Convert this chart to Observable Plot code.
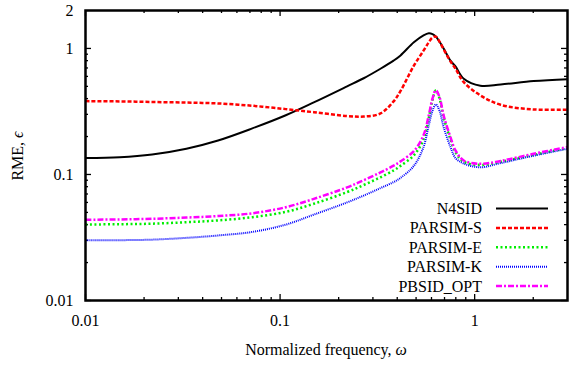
<!DOCTYPE html>
<html><head><meta charset="utf-8">
<script src="https://cdn.jsdelivr.net/npm/d3@7"></script>
<script src="https://cdn.jsdelivr.net/npm/@observablehq/plot@0.6"></script>
<style>
body{margin:0;background:#fff}
#chart{position:relative;width:571px;height:365px;background:#fff}
#chart svg, #chart svg text, #chart svg tspan{font-family:"Liberation Serif","Times New Roman",serif !important}
</style>
</head><body><div id="chart"></div>
<script>
// Normalized frequency (shared by all series)
const freq = [0.01, 0.015, 0.022, 0.033, 0.048, 0.072, 0.107, 0.149, 0.221, 0.269, 0.328, 0.383, 0.416, 0.487, 0.546, 0.581, 0.607, 0.632, 0.660, 0.694, 0.751, 0.797, 0.879, 1.07, 1.36, 2.01, 3.0];
const n4sid    = [0.135, 0.137, 0.144, 0.160, 0.186, 0.232, 0.295, 0.373, 0.500, 0.580, 0.690, 0.800, 0.880, 1.12, 1.27, 1.32, 1.30, 1.24, 1.13, 0.995, 0.80, 0.72, 0.575, 0.506, 0.518, 0.551, 0.570];
const parsimS  = [0.382, 0.380, 0.376, 0.372, 0.366, 0.351, 0.330, 0.312, 0.291, 0.288, 0.305, 0.380, 0.460, 0.730, 0.960, 1.12, 1.22, 1.24, 1.13, 0.98, 0.79, 0.69, 0.54, 0.424, 0.357, 0.328, 0.327];
const parsimE  = [0.0401, 0.0403, 0.0407, 0.0418, 0.0432, 0.0458, 0.0505, 0.0585, 0.0725, 0.0825, 0.0950, 0.1075, 0.117, 0.142, 0.190, 0.280, 0.390, 0.465, 0.400, 0.280, 0.190, 0.150, 0.126, 0.119, 0.126, 0.143, 0.162];
const parsimK  = [0.0300, 0.0301, 0.0304, 0.0314, 0.0328, 0.0350, 0.0400, 0.0480, 0.0600, 0.0680, 0.0780, 0.0870, 0.0940, 0.117, 0.165, 0.245, 0.320, 0.360, 0.320, 0.235, 0.165, 0.135, 0.122, 0.114, 0.123, 0.141, 0.160];
const pbsidOpt = [0.0437, 0.0440, 0.0445, 0.0455, 0.0468, 0.0492, 0.0550, 0.0640, 0.0790, 0.0900, 0.1038, 0.1174, 0.127, 0.153, 0.205, 0.295, 0.400, 0.465, 0.410, 0.290, 0.198, 0.155, 0.129, 0.1216, 0.128, 0.146, 0.165];

const seriesNames  = ["N4SID", "PARSIM-S", "PARSIM-E", "PARSIM-K", "PBSID_OPT"];
const seriesValues = [n4sid, parsimS, parsimE, parsimK, pbsidOpt];
const seriesColors = ["#000000", "#ff0000", "#00ee00", "#0000ff", "#ff00ff"];
const seriesWidths = [2, 2.5, 2.5, 2, 2.5];
const seriesDashes = [null, "4,2", "2,2.5", "1,1", "6,2,2,2"];

const xTickLabels = [0.01, 0.1, 1, 3];
const yTickLabels = [0.01, 0.1, 1, 2];
const xMajor = [0.01, 0.1, 1];
const yMajor = [0.01, 0.1, 1];
const xMinor = [0.02,0.03,0.04,0.05,0.06,0.07,0.08,0.09,0.2,0.3,0.4,0.5,0.6,0.7,0.8,0.9,2];
const yMinor = [0.02,0.03,0.04,0.05,0.06,0.07,0.08,0.09,0.2,0.3,0.4,0.5,0.6,0.7,0.8,0.9];

const W = 571, H = 365, mL = 85, mR = 4, mT = 10, mB = 65;
const iw = W - mL - mR, ih = H - mT - mB;
const FONT = '"Liberation Serif", "Times New Roman", serif';

const rows = seriesNames.map((name, i) => freq.map((f, j) => ({f, v: seriesValues[i][j], name})));

const tickStyle = {stroke: "black", strokeWidth: 1.3};
const marks = [
  Plot.tickX(xMajor, {x: d => d, insetTop: ih - 6, ...tickStyle}),
  Plot.tickX(xMajor, {x: d => d, insetBottom: ih - 6, ...tickStyle}),
  Plot.tickX(xMinor, {x: d => d, insetTop: ih - 3, ...tickStyle}),
  Plot.tickX(xMinor, {x: d => d, insetBottom: ih - 3, ...tickStyle}),
  Plot.tickY(yMajor, {y: d => d, insetRight: iw - 6, ...tickStyle}),
  Plot.tickY(yMajor, {y: d => d, insetLeft: iw - 6, ...tickStyle}),
  Plot.tickY(yMinor, {y: d => d, insetRight: iw - 3, ...tickStyle}),
  Plot.tickY(yMinor, {y: d => d, insetLeft: iw - 3, ...tickStyle}),
  Plot.axisX(xTickLabels, {tickSize: 0, tickPadding: 14, tickFormat: d => String(d), fontSize: 16, label: null}),
  Plot.axisY(yTickLabels, {tickSize: 0, tickPadding: 12, tickFormat: d => String(d), fontSize: 16, label: null}),
  ...rows.map((r, i) => Plot.line(r, {x: "f", y: "v", stroke: seriesColors[i], strokeWidth: seriesWidths[i],
    strokeDasharray: seriesDashes[i], strokeLinecap: "butt", curve: "catmull-rom"})),
  Plot.frame({stroke: "black", strokeWidth: 2.5})
];

const chart = Plot.plot({
  width: W, height: H,
  marginLeft: mL, marginRight: mR, marginTop: mT, marginBottom: mB,
  style: {fontFamily: FONT, fontSize: "16px", background: "white", color: "black"},
  x: {type: "log", domain: [0.01, 3], axis: null},
  y: {type: "log", domain: [0.01, 2], axis: null},
  marks
});
document.getElementById("chart").appendChild(chart);

// Axis titles and legend
const svg = d3.select(chart);
svg.attr("font-family", FONT);
const xt = svg.append("text").attr("x", mL + iw / 2).attr("y", 354.5).attr("text-anchor", "middle")
  .attr("font-size", 16).attr("fill", "black");
xt.append("tspan").text("Normalized frequency, ");
xt.append("tspan").attr("font-style", "italic").text("ω");
const yt = svg.append("text").attr("transform", "translate(22.5,156) rotate(-90)").attr("text-anchor", "middle")
  .attr("font-size", 16).attr("fill", "black");
yt.append("tspan").text("RME, ");
yt.append("tspan").attr("font-style", "italic").text("ϵ");

const lg = svg.append("g");
seriesNames.forEach((name, i) => {
  const y = 208.5 + i * 19.4;
  lg.append("text").attr("x", 482).attr("y", y + 5.5).attr("text-anchor", "end")
    .attr("font-size", 16).attr("fill", "black").text(name);
  lg.append("line").attr("x1", 496).attr("x2", 548).attr("y1", y).attr("y2", y)
    .attr("stroke", seriesColors[i]).attr("stroke-width", seriesWidths[i])
    .attr("stroke-dasharray", seriesDashes[i]);
});
</script>
</body></html>
